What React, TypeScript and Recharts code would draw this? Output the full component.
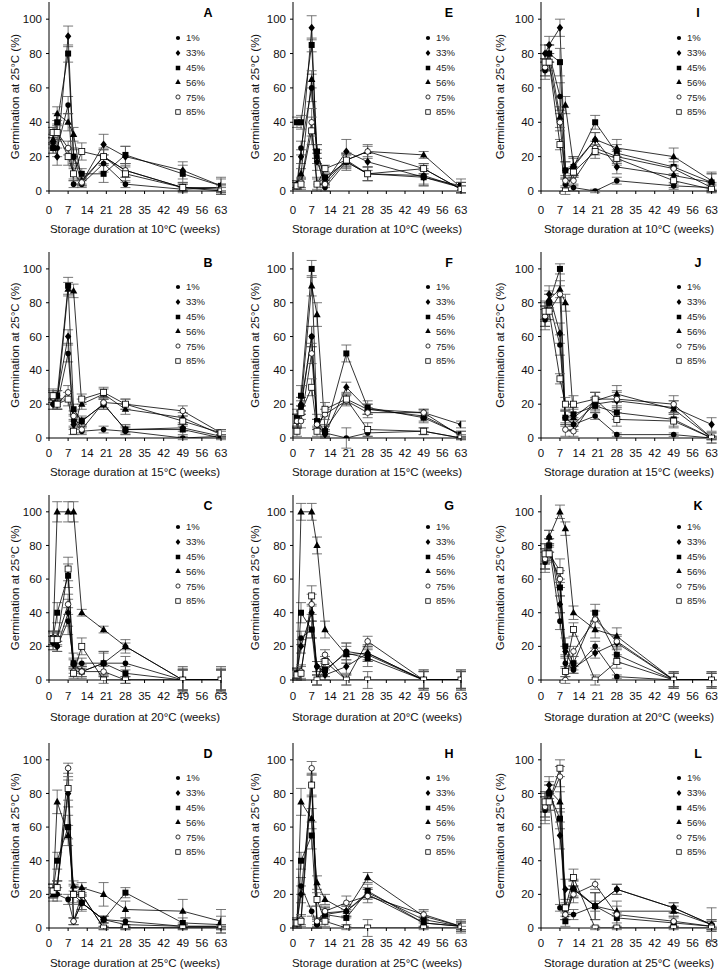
import React from 'react';
import { LineChart, Line, XAxis, YAxis, ErrorBar, Legend } from 'recharts';

// storage time points (weeks)
const weeks = [1.5, 3, 7, 9, 12, 20, 28, 49, 63];
const rhLabels = ['1%', '33%', '45%', '56%', '75%', '85%'];
const xTicks = [0, 7, 14, 21, 28, 35, 42, 49, 56, 63];
const yTicks = [0, 20, 40, 60, 80, 100];
const storageTemps = ['10°C', '15°C', '20°C', '25°C'];
const panelLetters = [['A', 'E', 'I'], ['B', 'F', 'J'], ['C', 'G', 'K'], ['D', 'H', 'L']];

// germination (%) — one row per RH level, in rhLabels order
const valsA = [
  [25, 25, 50, 4, 4, 16, 4, 1, 2],
  [28, 20, 90, 20, 5, 27, 20, 12, 3],
  [25, 40, 80, 20, 10, 10, 21, 10, 3],
  [30, 45, 40, 33, 6, 20, 12, 2, 2],
  [34, 34, 25, 10, 5, 20, 12, 2, 1],
  [34, 34, 20, 10, 23, 20, 10, 2, 0],
];
const errA = [
  [3, 5, 5, 2, 2, 5, 2, 1, 2],
  [3, 5, 6, 4, 2, 6, 6, 5, 4],
  [3, 5, 5, 5, 3, 5, 5, 5, 5],
  [3, 4, 5, 4, 2, 4, 4, 2, 2],
  [3, 5, 4, 3, 2, 4, 4, 2, 2],
  [3, 4, 5, 4, 5, 5, 5, 3, 2],
];
const valsE = [
  [4, 25, 60, 20, 2, 17, 10, 9, 2],
  [3, 20, 95, 17, 5, 23, 17, 8, 2],
  [40, 40, 85, 23, 8, 17, 10, 8, 3],
  [4, 10, 65, 23, 6, 18, 23, 21, 2],
  [3, 5, 40, 4, 4, 18, 23, 13, 1],
  [3, 4, 35, 4, 13, 18, 10, 13, 1],
];
const errE = [
  [2, 4, 8, 4, 2, 5, 4, 6, 3],
  [2, 4, 7, 5, 2, 7, 5, 5, 3],
  [3, 4, 4, 4, 2, 4, 4, 4, 4],
  [2, 3, 5, 4, 2, 4, 4, 2, 3],
  [2, 3, 8, 4, 2, 4, 3, 3, 2],
  [2, 3, 8, 3, 2, 3, 4, 3, 2],
];
const valsI = [
  [70, 80, 55, 4, 2, 0, 6, 3, 2],
  [80, 85, 95, 12, 14, 30, 14, 9, 5],
  [75, 80, 75, 12, 14, 40, 22, 14, 5],
  [72, 80, 43, 50, 15, 30, 25, 20, 6],
  [72, 75, 40, 6, 6, 25, 20, 13, 2],
  [75, 75, 27, 0, 11, 23, 19, 6, 1],
];
const errI = [
  [5, 5, 8, 4, 2, 1, 2, 2, 2],
  [5, 5, 5, 5, 6, 4, 4, 5, 5],
  [5, 5, 8, 5, 5, 4, 5, 5, 5],
  [5, 5, 6, 5, 5, 4, 5, 5, 5],
  [5, 5, 5, 3, 3, 4, 4, 4, 3],
  [5, 5, 3, 2, 3, 4, 4, 4, 2],
];
const valsB = [
  [20, 20, 50, 10, 4, 5, 4, 0, 1],
  [20, 25, 60, 8, 10, 20, 5, 6, 1],
  [24, 25, 90, 17, 10, 20, 5, 5, 0],
  [25, 20, 88, 87, 20, 26, 17, 12, 2],
  [24, 20, 27, 13, 5, 21, 20, 16, 3],
  [25, 20, 23, 4, 23, 27, 20, 10, 3],
];
const errB = [
  [3, 3, 5, 3, 2, 2, 2, 1, 1],
  [3, 3, 4, 3, 2, 3, 2, 2, 1],
  [3, 3, 5, 3, 3, 3, 3, 3, 1],
  [3, 3, 4, 4, 3, 3, 3, 3, 2],
  [3, 3, 4, 3, 2, 3, 3, 3, 2],
  [4, 3, 4, 2, 3, 3, 3, 3, 2],
];
const valsF = [
  [10, 18, 60, 8, 3, 0, 3, 4, 0],
  [10, 20, 60, 8, 2, 30, 17, 15, 8],
  [12, 25, 100, 10, 4, 50, 18, 12, 2],
  [10, 20, 90, 73, 5, 23, 17, 13, 2],
  [10, 10, 50, 8, 14, 22, 15, 15, 1],
  [4, 15, 30, 4, 17, 23, 5, 4, 0],
];
const errF = [
  [4, 4, 6, 3, 2, 6, 2, 2, 1],
  [4, 4, 6, 3, 2, 3, 3, 2, 2],
  [5, 6, 5, 4, 3, 5, 4, 3, 2],
  [4, 4, 6, 7, 3, 3, 3, 3, 2],
  [4, 4, 6, 3, 3, 3, 3, 2, 1],
  [3, 4, 5, 3, 4, 3, 4, 2, 1],
];
const valsJ = [
  [70, 80, 55, 12, 8, 13, 2, 2, 0],
  [72, 85, 62, 12, 8, 20, 22, 18, 8],
  [75, 80, 100, 12, 14, 19, 15, 11, 0],
  [72, 82, 88, 80, 12, 22, 26, 17, 0],
  [72, 75, 85, 5, 4, 23, 23, 20, 0],
  [75, 75, 35, 20, 20, 23, 11, 10, 0],
];
const errJ = [
  [6, 5, 6, 4, 3, 2, 1, 1, 1],
  [6, 5, 6, 5, 4, 4, 5, 4, 4],
  [5, 5, 3, 4, 4, 4, 4, 4, 3],
  [6, 5, 5, 5, 5, 5, 5, 5, 3],
  [6, 5, 5, 4, 3, 4, 5, 5, 1],
  [6, 5, 3, 4, 5, 4, 4, 4, 1],
];
const valsC = [
  [22, 20, 35, 10, 10, 10, 10, 0, 0],
  [22, 20, 40, 9, 5, 10, 20, 0, 0],
  [25, 40, 62, 10, 5, 10, 4, 0, 0],
  [25, 100, 100, 100, 40, 30, 20, 0, 0],
  [25, 25, 45, 5, 5, 5, 0, 0, 0],
  [24, 24, 66, 4, 20, 0, 0, 0, 0],
];
const errC = [
  [4, 3, 8, 3, 3, 6, 4, 6, 6],
  [4, 3, 8, 3, 3, 7, 4, 6, 6],
  [4, 6, 7, 6, 4, 7, 4, 7, 7],
  [4, 6, 6, 6, 2, 2, 2, 8, 8],
  [4, 4, 6, 3, 3, 3, 2, 6, 6],
  [4, 4, 7, 3, 5, 2, 2, 6, 6],
];
const valsG = [
  [4, 25, 30, 8, 5, 17, 15, 0, 0],
  [4, 20, 40, 8, 3, 8, 16, 0, 0],
  [4, 40, 30, 0, 6, 16, 13, 0, 0],
  [4, 100, 100, 80, 30, 15, 16, 0, 0],
  [3, 5, 45, 0, 15, 0, 23, 0, 0],
  [3, 4, 50, 0, 11, 0, 0, 0, 0],
];
const errG = [
  [3, 4, 5, 3, 3, 5, 4, 5, 5],
  [3, 4, 5, 3, 3, 4, 4, 5, 5],
  [3, 6, 5, 3, 4, 6, 5, 6, 6],
  [3, 5, 5, 5, 5, 5, 5, 6, 6],
  [3, 4, 6, 3, 3, 3, 3, 5, 5],
  [3, 4, 6, 3, 3, 3, 5, 5, 5],
];
const valsK = [
  [70, 80, 35, 10, 6, 20, 2, 0, 0],
  [72, 85, 45, 17, 7, 16, 22, 0, 0],
  [75, 80, 55, 20, 10, 40, 15, 0, 0],
  [72, 85, 100, 90, 40, 30, 26, 0, 0],
  [72, 75, 60, 0, 17, 36, 23, 0, 0],
  [75, 75, 65, 5, 30, 0, 11, 0, 0],
];
const errK = [
  [6, 4, 5, 3, 2, 3, 1, 4, 4],
  [6, 4, 5, 3, 3, 3, 4, 4, 4],
  [6, 4, 5, 5, 4, 5, 5, 5, 5],
  [6, 4, 4, 4, 4, 5, 5, 5, 5],
  [6, 4, 5, 2, 3, 5, 4, 4, 4],
  [6, 5, 7, 3, 4, 3, 4, 4, 4],
];
const valsD = [
  [22, 20, 17, 4, 15, 5, 4, 1, 1],
  [22, 24, 80, 4, 15, 5, 2, 1, 1],
  [22, 40, 60, 20, 15, 5, 21, 3, 2],
  [20, 75, 55, 25, 24, 20, 11, 10, 4],
  [22, 24, 95, 4, 20, 0, 0, 0, 0],
  [22, 24, 83, 20, 20, 0, 0, 0, 0],
];
const errD = [
  [4, 4, 3, 2, 4, 2, 2, 1, 1],
  [4, 4, 8, 2, 4, 2, 2, 1, 1],
  [4, 5, 7, 5, 5, 2, 3, 3, 5],
  [4, 7, 6, 3, 3, 7, 5, 7, 7],
  [4, 4, 3, 2, 4, 1, 1, 1, 1],
  [4, 4, 7, 6, 4, 1, 1, 1, 1],
];
const valsH = [
  [3, 25, 10, 2, 8, 10, 20, 3, 1],
  [3, 20, 85, 3, 9, 10, 21, 5, 1],
  [3, 40, 55, 3, 8, 6, 22, 3, 1],
  [3, 75, 65, 27, 17, 10, 30, 7, 1],
  [3, 5, 95, 4, 10, 15, 19, 8, 1],
  [3, 4, 85, 17, 4, 0, 0, 0, 0],
];
const errH = [
  [2, 5, 3, 2, 3, 3, 3, 2, 2],
  [2, 5, 7, 2, 3, 3, 3, 2, 2],
  [3, 5, 8, 3, 4, 4, 4, 3, 3],
  [3, 8, 6, 4, 3, 4, 3, 3, 4],
  [2, 3, 4, 2, 3, 4, 4, 3, 3],
  [2, 3, 6, 4, 3, 1, 5, 1, 1],
];
const valsL = [
  [70, 80, 12, 8, 8, 13, 23, 12, 2],
  [72, 85, 55, 23, 23, 13, 23, 12, 2],
  [75, 80, 65, 4, 23, 13, 6, 3, 1],
  [72, 82, 75, 8, 24, 13, 10, 10, 2],
  [72, 75, 90, 8, 20, 26, 8, 4, 1],
  [75, 75, 95, 12, 30, 0, 0, 0, 0],
];
const errL = [
  [8, 5, 2, 3, 3, 3, 3, 3, 3],
  [8, 5, 8, 6, 5, 8, 3, 3, 3],
  [6, 5, 6, 3, 5, 8, 3, 3, 3],
  [6, 5, 6, 3, 5, 8, 3, 3, 10],
  [6, 5, 6, 3, 5, 3, 8, 3, 3],
  [6, 5, 5, 3, 5, 1, 1, 1, 1],
];

const panelVals = [
  [valsA, valsE, valsI],
  [valsB, valsF, valsJ],
  [valsC, valsG, valsK],
  [valsD, valsH, valsL],
];
const panelErrs = [
  [errA, errE, errI],
  [errB, errF, errJ],
  [errC, errG, errK],
  [errD, errH, errL],
];

// layout (px)
const FONT = '"Liberation Sans", Arial, sans-serif';
const colLeft = [0, 240, 480];
const plotLeft = [49, 53, 61];
const plotRight = [221, 221, 237];
const xMax = [63, 63, 65];
const yLabelX = [15, 15, 20];
const letterX = [208, 209, 218];
const legendX = [178, 188, 199];
const plotBottom = [191, 438, 680, 928];
const plotH = [189, 186, 185, 185];
const tickGap = [12, 8, 9, 8];
const xLabelBase = [42, 38, 41, 39];
const legendTop = [36, 35, 32, 35];
const TOP = 5;
const XAXIS_H = 48;

const Marker = ({ kind, cx, cy, s = 1 }: any) => {
  if (cx == null || cy == null) return null;
  const k = s;
  switch (kind) {
    case 0:
      return <circle cx={cx} cy={cy} r={2.8 * k} fill="#000" />;
    case 1:
      return (
        <polygon
          points={`${cx},${cy - 4 * k} ${cx + 3.2 * k},${cy} ${cx},${cy + 4 * k} ${cx - 3.2 * k},${cy}`}
          fill="#000"
        />
      );
    case 2:
      return <rect x={cx - 3 * k} y={cy - 3 * k} width={6 * k} height={6 * k} fill="#000" />;
    case 3:
      return (
        <polygon
          points={`${cx},${cy - 4 * k} ${cx + 3.7 * k},${cy + 2.6 * k} ${cx - 3.7 * k},${cy + 2.6 * k}`}
          fill="#000"
        />
      );
    case 4:
      return <circle cx={cx} cy={cy} r={2.8 * k} fill="#fff" stroke="#000" strokeWidth={0.8} />;
    default:
      return (
        <rect x={cx - 3 * k} y={cy - 3 * k} width={6 * k} height={6 * k} fill="#fff" stroke="#000" strokeWidth={0.8} />
      );
  }
};

const RhLegend = () => (
  <div style={{ fontFamily: FONT, fontSize: 9.5, color: '#222' }}>
    {rhLabels.map((l, k) => (
      <div key={l} style={{ display: 'flex', alignItems: 'center', height: 14.8 }}>
        <svg width={8} height={8} style={{ overflow: 'visible' }}>
          <Marker kind={k} cx={4} cy={4} s={0.75} />
        </svg>
        <span style={{ marginLeft: 4 }}>{l}</span>
      </div>
    ))}
  </div>
);

const Panel = ({ row, col }: { row: number; col: number }) => {
  const vals = panelVals[row][col];
  const errs = panelErrs[row][col];
  const data = weeks.map((w, i) => {
    const d: any = { w };
    vals.forEach((s, k) => {
      d[`s${k}`] = s[i];
      d[`e${k}`] = errs[k][i];
    });
    return d;
  });
  const h = TOP + plotH[row] + XAXIS_H;
  const top = plotBottom[row] - plotH[row] - TOP;
  const axisTick = { fontSize: 11.5, fill: '#111', fontFamily: FONT };

  return (
    <div style={{ position: 'absolute', left: colLeft[col], top, width: 240, height: h }}>
      <LineChart
        width={240}
        height={h}
        data={data}
        margin={{ top: TOP, right: 240 - plotRight[col], bottom: 0, left: 0 }}
      >
        <XAxis
          type="number"
          dataKey="w"
          domain={[0, xMax[col]]}
          ticks={xTicks}
          interval={0}
          tickSize={3}
          tickMargin={tickGap[row]}
          tick={axisTick}
          stroke="#000"
          height={XAXIS_H}
          allowDataOverflow
          label={{
            value: `Storage duration at ${storageTemps[row]} (weeks)`,
            position: 'insideBottom',
            offset: XAXIS_H - xLabelBase[row],
            fontSize: 11.5,
            fill: '#111',
            fontFamily: FONT,
          }}
        />
        <XAxis xAxisId="top" orientation="top" type="number" dataKey="w" domain={[0, xMax[col]]} tick={false} tickLine={false} height={0} stroke="#000" />
        <YAxis
          type="number"
          domain={[0, 110]}
          ticks={yTicks}
          interval={0}
          tickSize={3}
          tickMargin={4}
          tick={axisTick}
          stroke="#000"
          width={plotLeft[col]}
          allowDataOverflow
          label={{
            value: 'Germination at 25°C (%)',
            angle: -90,
            position: 'insideLeft',
            offset: yLabelX[col],
            fontSize: 11.5,
            fill: '#111',
            fontFamily: FONT,
            style: { textAnchor: 'middle' },
          }}
        />
        <YAxis yAxisId="right" orientation="right" type="number" domain={[0, 110]} tick={false} tickLine={false} width={0} stroke="#000" />
        {rhLabels.map((name, k) => (
          <Line
            key={name}
            name={name}
            dataKey={`s${k}`}
            stroke="#000"
            strokeWidth={0.8}
            isAnimationActive={false}
            dot={(p: any) => <Marker key={`m${k}-${p.index}`} kind={k} cx={p.cx} cy={p.cy} />}
            activeDot={false}
          >
            <ErrorBar dataKey={`e${k}`} direction="y" width={5} stroke="#555" strokeWidth={0.8} />
          </Line>
        ))}
        <Legend
          layout="horizontal"
          verticalAlign="middle"
          align="center"
          content={() => <RhLegend />}
          wrapperStyle={{ left: legendX[col] - 4, top: TOP + legendTop[row] - 7.4, width: 50, height: 90 }}
        />
      </LineChart>
      <div
        style={{
          position: 'absolute',
          left: letterX[col] - 10,
          width: 20,
          top: TOP + 11 - 7,
          lineHeight: '14px',
          textAlign: 'center',
          fontFamily: FONT,
          fontWeight: 'bold',
          fontSize: 12.5,
        }}
      >
        {panelLetters[row][col]}
      </div>
    </div>
  );
};

export default function App() {
  return (
    <div style={{ position: 'absolute', left: 0, top: 0, width: 720, height: 973, background: '#fff', overflow: 'hidden' }}>
      {panelLetters.map((r, row) => r.map((_, col) => <Panel key={`${row}-${col}`} row={row} col={col} />))}
    </div>
  );
}
